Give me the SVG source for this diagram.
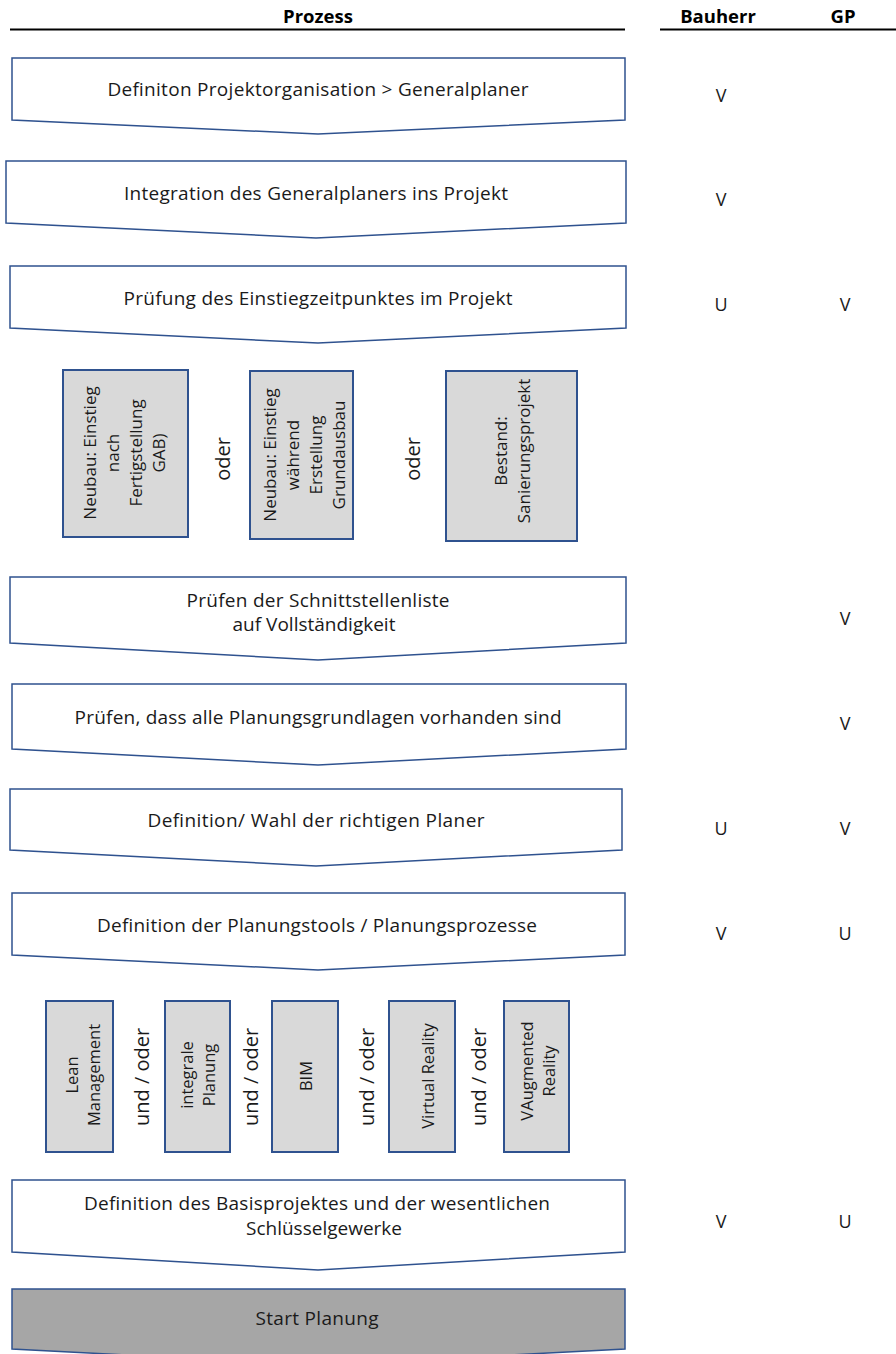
<svg xmlns="http://www.w3.org/2000/svg" width="896" height="1354" viewBox="0 0 896 1354">
<style>
.step{fill:#ffffff;stroke:#2f528f;stroke-width:1.5}
.start{fill:#a6a6a6;stroke:#2f528f;stroke-width:1.5}
.opt{fill:#d9d9d9;stroke:#2f528f;stroke-width:2}
.t{font-family:"Open Sans","Liberation Sans",sans-serif;font-size:19px;fill:#1a1a1a;text-anchor:middle}
.r{font-family:"Open Sans","Liberation Sans",sans-serif;font-size:16.5px;fill:#1a1a1a;text-anchor:middle;dominant-baseline:central}
.r2{font-family:"Open Sans","Liberation Sans",sans-serif;font-size:17px;fill:#1a1a1a;text-anchor:middle;dominant-baseline:central}
.o{font-family:"Open Sans","Liberation Sans",sans-serif;font-size:20px;fill:#1a1a1a;text-anchor:middle;dominant-baseline:central}
.h{font-family:"Open Sans","Liberation Sans",sans-serif;font-size:18.5px;font-weight:bold;fill:#000;text-anchor:middle}
.m{font-family:"Open Sans","Liberation Sans",sans-serif;font-size:18px;fill:#1a1a1a;text-anchor:middle}
.rule{stroke:#000;stroke-width:2}
</style>
<g id="header">
<text class="h" x="318" y="23">Prozess</text>
<text class="h" x="718" y="23">Bauherr</text>
<text class="h" x="843" y="23">GP</text>
<line class="rule" x1="10" y1="29.5" x2="625" y2="29.5"/>
<line class="rule" x1="660" y1="29.5" x2="896" y2="29.5"/>
</g>
<g id="connectors"></g>
<g id="step1"><polygon class="step" points="12,58 625,58 625,120 318,134 12,120"/><text class="t" x="318" y="96" textLength="421">Definiton Projektorganisation &gt; Generalplaner</text></g>
<g id="step2"><polygon class="step" points="6,161 626,161 626,223 316,238 6,223"/><text class="t" x="316" y="200" textLength="384">Integration des Generalplaners ins Projekt</text></g>
<g id="step3"><polygon class="step" points="10,266 626,266 626,328 318,343 10,328"/><text class="t" x="318" y="305" textLength="389">Prüfung des Einstiegzeitpunktes im Projekt</text></g>
<g id="opt1"><rect class="opt" x="63" y="370" width="125" height="167"/>
<g transform="translate(124,453) rotate(-90)"><text class="r2" x="0" y="-34.5">Neubau: Einstieg</text><text class="r2" x="0" y="-11.5">nach</text><text class="r2" x="0" y="11.5">Fertigstellung</text><text class="r2" x="0" y="34.5">GAB)</text></g></g>
<g id="oder1"><text class="o" transform="translate(222,459) rotate(-90)">oder</text></g>
<g id="opt2"><rect class="opt" x="250" y="371" width="103" height="168"/>
<g transform="translate(304,455) rotate(-90)"><text class="r2" x="0" y="-34.5">Neubau: Einstieg</text><text class="r2" x="0" y="-11.5">während</text><text class="r2" x="0" y="11.5">Erstellung</text><text class="r2" x="0" y="34.5">Grundausbau</text></g></g>
<g id="oder2"><text class="o" transform="translate(412,459) rotate(-90)">oder</text></g>
<g id="opt3"><rect class="opt" x="446" y="371" width="131" height="170"/>
<g transform="translate(512,451) rotate(-90)"><text class="r2" x="0" y="-11.5">Bestand:</text><text class="r2" x="0" y="11.5">Sanierungsprojekt</text></g></g>
<g id="step4"><polygon class="step" points="10,577 626,577 626,643 318,660 10,643"/><text class="t" x="318" y="607" textLength="263">Prüfen der Schnittstellenliste</text><text class="t" x="314" y="631">auf Vollständigkeit</text></g>
<g id="step5"><polygon class="step" points="12,684 626,684 626,749 318,765 12,749"/><text class="t" x="318" y="724" textLength="487">Prüfen, dass alle Planungsgrundlagen vorhanden sind</text></g>
<g id="step6"><polygon class="step" points="10,789 622,789 622,850 316,866 10,850"/><text class="t" x="316" y="827" textLength="337">Definition/ Wahl der richtigen Planer</text></g>
<g id="step7"><polygon class="step" points="12,893 625,893 625,955 318,970 12,955"/><text class="t" x="317" y="932" textLength="440">Definition der Planungstools / Planungsprozesse</text></g>
<g id="tool1"><rect class="opt" x="46" y="1001" width="67" height="151"/>
<g transform="translate(82,1075) rotate(-90)"><text class="r" x="0" y="-11">Lean</text><text class="r" x="0" y="11">Management</text></g></g>
<g id="uo1"><text class="o" transform="translate(141,1077) rotate(-90)">und / oder</text></g>
<g id="tool2"><rect class="opt" x="165" y="1001" width="65" height="151"/>
<g transform="translate(197,1075) rotate(-90)"><text class="r" x="0" y="-11">integrale</text><text class="r" x="0" y="11">Planung</text></g></g>
<g id="uo2"><text class="o" transform="translate(250,1077) rotate(-90)">und / oder</text></g>
<g id="tool3"><rect class="opt" x="272" y="1001" width="66" height="151"/>
<g transform="translate(305,1076) rotate(-90)"><text class="r" x="0" y="0">BIM</text></g></g>
<g id="uo3"><text class="o" transform="translate(366,1077) rotate(-90)">und / oder</text></g>
<g id="tool4"><rect class="opt" x="389" y="1001" width="66" height="151"/>
<g transform="translate(427,1076) rotate(-90)"><text class="r" x="0" y="0">Virtual Reality</text></g></g>
<g id="uo4"><text class="o" transform="translate(478,1077) rotate(-90)">und / oder</text></g>
<g id="tool5"><rect class="opt" x="504" y="1001" width="65" height="151"/>
<g transform="translate(537,1071) rotate(-90)"><text class="r" x="0" y="-11">VAugmented</text><text class="r" x="0" y="11">Reality</text></g></g>
<g id="step8"><polygon class="step" points="12,1180 625,1180 625,1252 318,1270 12,1252"/><text class="t" x="317" y="1210" textLength="466">Definition des Basisprojektes und der wesentlichen</text><text class="t" x="324" y="1235">Schlüsselgewerke</text></g>
<g id="step9"><polygon class="start" points="12,1289 625,1289 625,1349 318,1365 12,1349"/><text class="t" x="317" y="1325" textLength="123">Start Planung</text></g>
<g id="roles">
<text class="m" x="721" y="102">V</text>
<text class="m" x="721" y="206">V</text>
<text class="m" x="721" y="311">U</text><text class="m" x="845" y="311">V</text>
<text class="m" x="845" y="625">V</text>
<text class="m" x="845" y="730">V</text>
<text class="m" x="721" y="835">U</text><text class="m" x="845" y="835">V</text>
<text class="m" x="721" y="940">V</text><text class="m" x="845" y="940">U</text>
<text class="m" x="721" y="1228">V</text><text class="m" x="845" y="1228">U</text>
</g>
</svg>
